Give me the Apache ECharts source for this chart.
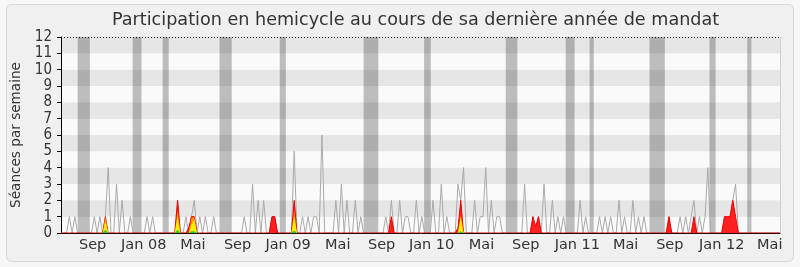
<!DOCTYPE html>
<html>
<head>
<meta charset="utf-8">
<script src="https://cdn.jsdelivr.net/npm/echarts@6/dist/echarts.min.js"></script>
<style>html,body{margin:0;padding:0;background:#f7f7f7;}#c{width:800px;height:267px;}</style>
</head>
<body>
<div id="c"></div>
<script>
// Weekly values (week index 0 = early June 2007)
const grayWeekly = [
0,0,0,1,0,1,0,0,0,0, 0,0,1,0,1,0,1,4,0,0,
3,0,2,0,0,1,0,0,0,0, 0,1,0,1,0,0,0,0,0,0,
0,0,2,0,0,1,0,1,2,0, 1,0,1,0,0,1,0,0,0,0,
0,0,0,0,0,0,1,0,0,3, 0,2,0,2,0,0,1,1,0,0,
0,0,0,0,5,0,0,1,0,1, 0,1,1,0,6,0,0,0,0,2,
0,3,0,2,0,0,2,0,1,0, 0,0,0,0,0,0,0,1,0,2,
0,0,2,0,1,1,0,0,2,0, 1,0,0,0,2,0,0,3,0,1,
0,0,0,3,2,4,0,0,0,2, 0,1,1,4,0,2,0,1,1,0,
0,0,0,0,0,0,0,3,0,0, 1,0,1,0,3,0,0,2,0,1,
0,1,0,0,0,0,0,2,0,1, 0,0,0,0,1,0,1,0,1,0,
0,2,0,1,0,0,2,0,1,0, 1,0,0,0,0,0,0,0,0,1,
0,0,0,1,0,1,0,1,2,0, 1,0,1,4,0,0,0,0,0,1,
1,1,2,3,0,0,0,0,0,0, 0,0,0,0,0,0,0,0,0,0
];
const redWeekly = [
0,0,0,0,0,0,0,0,0,0, 0,0,0,0,0,0,1,0,0,0,
0,0,0,0,0,0,0,0,0,0, 0,0,0,0,0,0,0,0,0,0,
0,0,2,0,0,0,0.3,1,1,0, 0,0,0,0,0,0,0,0,0,0,
0,0,0,0,0,0,0,0,0,0, 0,0,0,0,0,0,1,1,0,0,
0,0,0,0,2,0,0,0,0,0, 0,0,0,0,0,0,0,0,0,0,
0,0,0,0,0,0,0,0,0,0, 0,0,0,0,0,0,0,0,0,1,
0,0,0,0,0,0,0,0,0,0, 0,0,0,0,0,0,0,0,0,0,
0,0,0,0.3,2,0,0,0,0,0, 0,0,0,0,0,0,0,0,0,0,
0,0,0,0,0,0,0,0,0,0, 1,0.4,1,0,0,0,0,0,0,0,
0,0,0,0,0,0,0,0,0,0, 0,0,0,0,0,0,0,0,0,0,
0,0,0,0,0,0,0,0,0,0, 0,0,0,0,0,0,0,0,0,1,
0,0,0,0,0,0,0,0,1,0, 0,0,0,0,0,0,0,0,0,1,
1,1,2,1,0,0,0,0,0,0, 0,0,0,0,0,0,0,0,0,0
];
const orangeWeekly = [
0,0,0,0,0,0,0,0,0,0, 0,0,0,0,0,0,1,0,0,0,
0,0,0,0,0,0,0,0,0,0, 0,0,0,0,0,0,0,0,0,0,
0,0,1.4,0,0,0,0,0.9,1,0, 0,0,0,0,0,0,0,0,0,0,
0,0,0,0,0,0,0,0,0,0, 0,0,0,0,0,0,0,0,0,0,
0,0,0,0,1.4,0,0,0,0,0, 0,0,0,0,0,0,0,0,0,0,
0,0,0,0,0,0,0,0,0,0, 0,0,0,0,0,0,0,0,0,0,
0,0,0,0,0,0,0,0,0,0, 0,0,0,0,0,0,0,0,0,0,
0,0,0,0,1.1,0,0,0,0,0, 0,0,0,0,0,0,0,0,0,0,
0,0,0,0,0,0,0,0,0,0, 0,0,0,0,0,0,0,0,0,0,
0,0,0,0,0,0,0,0,0,0, 0,0,0,0,0,0,0,0,0,0,
0,0,0,0,0,0,0,0,0,0, 0,0,0,0,0,0,0,0,0,0,
0,0,0,0,0,0,0,0,0,0, 0,0,0,0,0,0,0,0,0,0,
0,0,0,0,0,0,0,0,0,0, 0,0,0,0,0,0,0,0,0,0
];
const yellowWeekly = [
0,0,0,0,0,0,0,0,0,0, 0,0,0,0,0,0,0.75,0,0,0,
0,0,0,0,0,0,0,0,0,0, 0,0,0,0,0,0,0,0,0,0,
0,0,1,0,0,0,0,0.5,0.8,0, 0,0,0,0,0,0,0,0,0,0,
0,0,0,0,0,0,0,0,0,0, 0,0,0,0,0,0,0,0,0,0,
0,0,0,0,1,0,0,0,0,0, 0,0,0,0,0,0,0,0,0,0,
0,0,0,0,0,0,0,0,0,0, 0,0,0,0,0,0,0,0,0,0,
0,0,0,0,0,0,0,0,0,0, 0,0,0,0,0,0,0,0,0,0,
0,0,0,0,1,0,0,0,0,0, 0,0,0,0,0,0,0,0,0,0,
0,0,0,0,0,0,0,0,0,0, 0,0,0,0,0,0,0,0,0,0,
0,0,0,0,0,0,0,0,0,0, 0,0,0,0,0,0,0,0,0,0,
0,0,0,0,0,0,0,0,0,0, 0,0,0,0,0,0,0,0,0,0,
0,0,0,0,0,0,0,0,0,0, 0,0,0,0,0,0,0,0,0,0,
0,0,0,0,0,0,0,0,0,0, 0,0,0,0,0,0,0,0,0,0
];
const greenWeekly = [
0,0,0,0,0,0,0,0,0,0, 0,0,0,0,0,0,0.2,0,0,0,
0,0,0,0,0,0,0,0,0,0, 0,0,0,0,0,0,0,0,0,0,
0,0,0.2,0,0,0,0,0.1,0.1,0, 0,0,0,0,0,0,0,0,0,0,
0,0,0,0,0,0,0,0,0,0, 0,0,0,0,0,0,0,0,0,0,
0,0,0,0,0.15,0,0,0,0,0, 0,0,0,0,0,0,0,0,0,0,
0,0,0,0,0,0,0,0,0,0, 0,0,0,0,0,0,0,0,0,0,
0,0,0,0,0,0,0,0,0,0, 0,0,0,0,0,0,0,0,0,0,
0,0,0,0,0.1,0,0,0,0,0, 0,0,0,0,0,0,0,0,0,0,
0,0,0,0,0,0,0,0,0,0, 0,0,0,0,0,0,0,0,0,0,
0,0,0,0,0,0,0,0,0,0, 0,0,0,0,0,0,0,0,0,0,
0,0,0,0,0,0,0,0,0,0, 0,0,0,0,0,0,0,0,0,0,
0,0,0,0,0,0,0,0,0,0, 0,0,0,0,0,0,0,0,0,0,
0,0,0,0,0,0,0,0,0,0, 0,0,0,0,0,0,0,0,0,0
];
// Parliamentary breaks, as [startWeek, endWeek]
const vacationStart = [6, 25.8, 36.6, 57.1, 78.8, 109, 130.8, 160.2, 181.8, 190.4, 212, 233.6, 247.2];
const vacationEnd   = [10.4, 29, 38.8, 61.5, 81, 114.3, 133.2, 164.4, 185, 191.9, 217.5, 235.8, 248.7];
// X tick labels and their week positions
const tickLabels = ['Sep','Jan 08','Mai','Sep','Jan 09','Mai','Sep','Jan 10','Mai','Sep','Jan 11','Mai','Sep','Jan 12','Mai'];
const tickWeeks  = [11.4, 29.8, 47.5, 63.6, 81.8, 99.7, 115.5, 133.5, 151.5, 167.4, 186, 203.4, 219.3, 238, 255.3];
const lastWeek = grayWeekly.length - 1;

const toPairs = arr => arr.map((v, i) => [i, v]);
const font = 'DejaVu Sans';
const condensed = '"DejaVu Sans Condensed", "DejaVu Sans"';

const chart = echarts.init(document.getElementById('c'), null, {renderer: 'canvas'});
chart.setOption({
  animation: false,
  backgroundColor: '#f7f7f7',
  textStyle: {fontFamily: font},
  graphic: [{
    type: 'rect', z: -10, silent: true,
    shape: {x: 6.5, y: 4.5, width: 787, height: 257, r: 5},
    style: {fill: '#f0f0f0', stroke: '#d6d6d6', lineWidth: 1}
  }],
  title: {
    text: 'Participation en hemicycle au cours de sa dernière année de mandat',
    left: 107, top: 6,
    textStyle: {fontFamily: font, fontSize: 17.6, fontWeight: 'normal', color: '#333'}
  },
  grid: {left: 61, top: 37, width: 719, height: 196, containLabel: false},
  xAxis: {
    type: 'value', min: 0, max: lastWeek, z: 10,
    splitLine: {show: false},
    axisTick: {show: false},
    axisLine: {show: true, lineStyle: {color: '#2a0a00', width: 1}},
    axisLabel: {
      customValues: tickWeeks,
      formatter: v => { const i = tickWeeks.indexOf(v); return i >= 0 ? tickLabels[i] : ''; },
      fontFamily: font, fontSize: 14.5, color: '#333', margin: 5
    }
  },
  yAxis: {
    type: 'value', min: 0, max: 12, interval: 1,
    name: 'Séances par semaine', nameLocation: 'middle', nameGap: 37,
    nameTextStyle: {fontFamily: font, fontSize: 13.6, color: '#333'},
    axisLine: {show: true, lineStyle: {color: '#000'}},
    axisTick: {show: true, length: 4, lineStyle: {color: '#000'}},
    axisLabel: {fontFamily: condensed, fontSize: 15, color: '#333', margin: 9},
    splitLine: {show: false},
    splitArea: {show: true, areaStyle: {color: ['#fafafa', '#e6e6e6']}}
  },
  series: [
    {
      type: 'line', name: 'bands', z: 1, data: [], silent: true,
      markArea: {
        silent: true,
        itemStyle: {color: 'rgba(0,0,0,0.245)'},
        data: vacationStart.map((s, i) => [{xAxis: s}, {xAxis: vacationEnd[i]}])
      },
      markLine: {
        silent: true, symbol: ['none', 'none'], label: {show: false},
        data: [
          {yAxis: 12, lineStyle: {type: [1, 2], color: '#000', width: 1}},
          {xAxis: lastWeek, lineStyle: {type: 'solid', color: '#cfcfcf', width: 1}}
        ]
      }
    },
    {
      type: 'line', name: 'séances', z: 3, data: toPairs(grayWeekly),
      symbol: 'none', lineStyle: {color: '#aaaaaa', width: 1}
    },
    {
      type: 'line', name: 'présences', z: 4, data: toPairs(redWeekly),
      symbol: 'none', lineStyle: {color: '#ee0000', width: 1},
      areaStyle: {color: '#ff2020', opacity: 1}
    },
    {
      type: 'line', name: 'participations', z: 5, data: toPairs(orangeWeekly),
      symbol: 'none', lineStyle: {width: 0},
      areaStyle: {color: '#ff9a00', opacity: 1}
    },
    {
      type: 'line', name: 'interventions', z: 6, data: toPairs(yellowWeekly),
      symbol: 'none', lineStyle: {width: 0},
      areaStyle: {color: '#f5ef00', opacity: 1}
    },
    {
      type: 'line', name: 'questions', z: 7, data: toPairs(greenWeekly),
      symbol: 'none', lineStyle: {width: 0},
      areaStyle: {color: '#20d020', opacity: 1}
    }
  ]
});
</script>
</body>
</html>
